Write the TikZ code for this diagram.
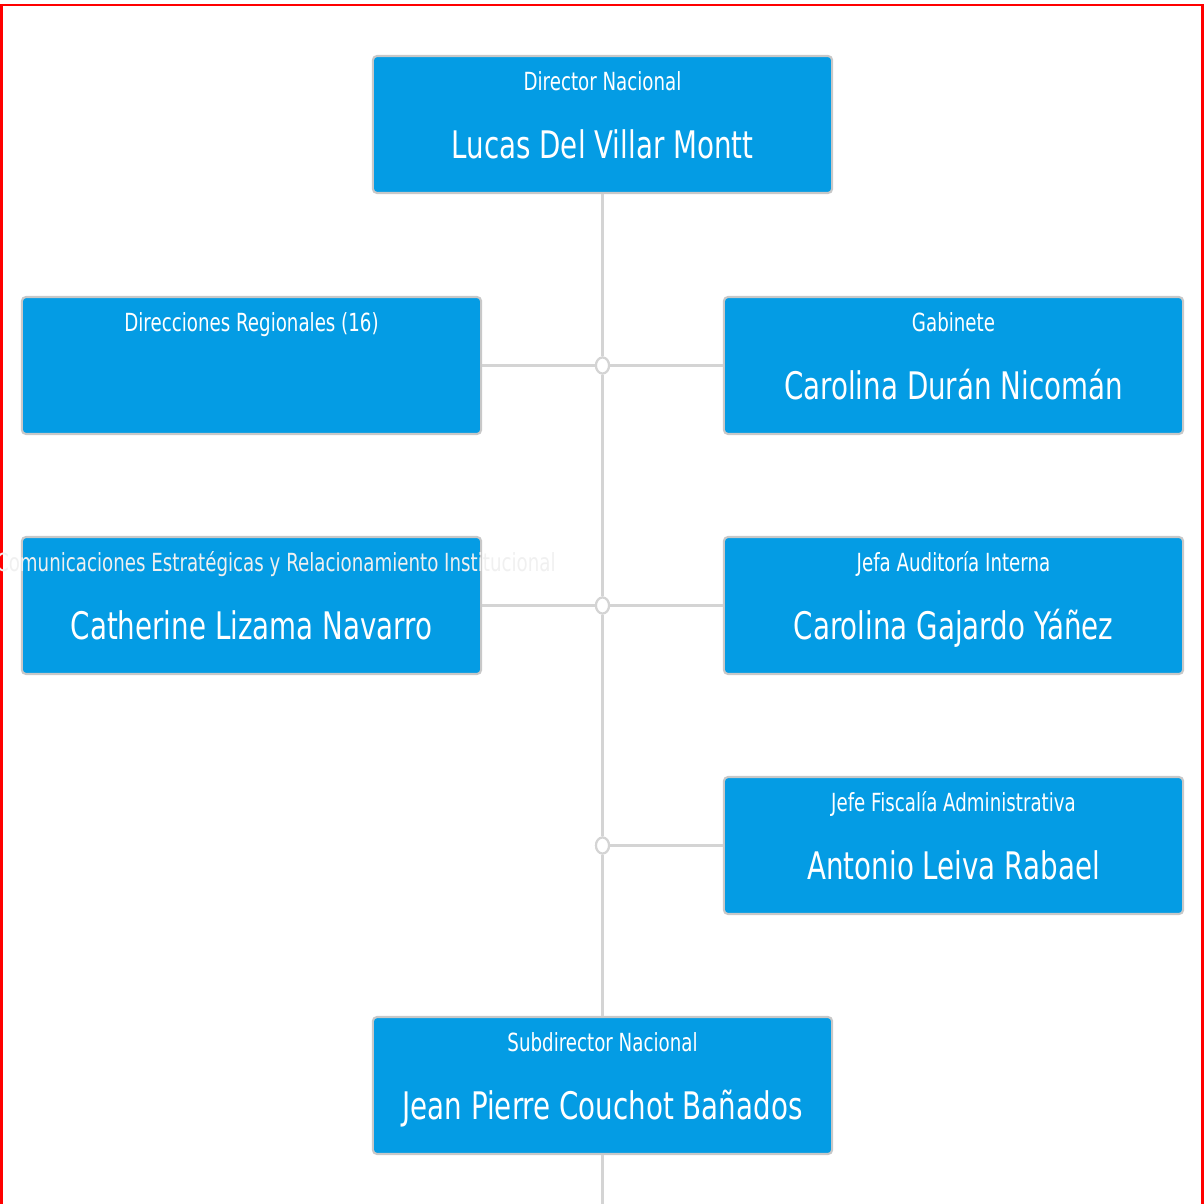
\documentclass[tikz,border=0pt]{standalone}
\usepackage{fontspec}
\usetikzlibrary{shapes.geometric}
\setmainfont[FakeStretch=0.73]{DejaVu Sans}
\definecolor{unitblue}{HTML}{049CE4}
\definecolor{unitedge}{HTML}{C8C8C8}
\definecolor{linkgray}{HTML}{D4D4D4}
\begin{document}
\begin{tikzpicture}[x=0.01cm,y=-0.01cm,
  unit/.style={draw=unitedge,line width=0.6pt,fill=unitblue,rounded corners=1.2pt,
    minimum width=4.59cm,minimum height=1.37cm,inner sep=0},
  role/.style={text=white,anchor=base,inner sep=0,font=\fontsize{7.1pt}{8pt}\selectfont},
  person/.style={text=white,anchor=base,inner sep=0,font=\fontsize{10.8pt}{12pt}\selectfont},
  link/.style={draw=linkgray,line width=0.85pt},
  joint/.style={ellipse,draw=linkgray,line width=0.6pt,fill=white,inner sep=0,
    minimum width=0.13cm,minimum height=0.16cm}]
\useasboundingbox (0,0) rectangle (1204,1204);
\draw[red,line width=0.7pt] (1.5,1210) -- (1.5,5) -- (1202.5,5) -- (1202.5,1210);
% units
\node[unit] (dir) at (602.5,124.5) {};
\node[unit] (reg) at (251.5,365.5) {};
\node[unit] (gab) at (953.5,365.5) {};
\node[unit] (com) at (251.5,605.5) {};
\node[unit] (aud) at (953.5,605.5) {};
\node[unit] (fis) at (953.5,845.5) {};
\node[unit] (sub) at (602.5,1085.5) {};
\coordinate (down) at (602.5,1215);
% links
\node[joint] (j1) at (reg.east -| dir.south) {};
\node[joint] (j2) at (com.east -| dir.south) {};
\node[joint] (j3) at (fis.west -| dir.south) {};
\draw[link] (dir.south) -- (j1);
\draw[link] (j1) -- (j2);
\draw[link] (j2) -- (j3);
\draw[link] (j3) -- (sub.north);
\draw[link] (sub.south) -- (down);
\draw[link] (reg.east) -- (j1) -- (gab.west);
\draw[link] (com.east) -- (j2) -- (aud.west);
\draw[link] (j3) -- (fis.west);
\node[joint] at (j1) {};
\node[joint] at (j2) {};
\node[joint] at (j3) {};
% texts
\node[role] (t1) at ([yshift=-0.355cm]dir.north) {Director Nacional};
\node[person] (n1) at ([yshift=-1.04cm]dir.north) {Lucas Del Villar Montt};
\node[role] (t2) at ([yshift=-0.355cm]reg.north) {Direcciones Regionales (16)};
\node[role] (t3) at ([yshift=-0.355cm]gab.north) {Gabinete};
\node[person] (n3) at ([yshift=-1.04cm]gab.north) {Carolina Durán Nicomán};
\node[role,anchor=base east,text=white!88!gray] (t4) at ([xshift=0.74cm,yshift=-0.355cm]com.north east) {Comunicaciones Estratégicas y Relacionamiento Institucional};
\node[person] (n4) at ([yshift=-1.04cm]com.north) {Catherine Lizama Navarro};
\node[role] (t5) at ([yshift=-0.355cm]aud.north) {Jefa Auditoría Interna};
\node[person] (n5) at ([yshift=-1.04cm]aud.north) {Carolina Gajardo Yáñez};
\node[role] (t6) at ([yshift=-0.355cm]fis.north) {Jefe Fiscalía Administrativa};
\node[person] (n6) at ([yshift=-1.04cm]fis.north) {Antonio Leiva Rabael};
\node[role] (t7) at ([yshift=-0.355cm]sub.north) {Subdirector Nacional};
\node[person] (n7) at ([yshift=-1.04cm]sub.north) {Jean Pierre Couchot Bañados};
\end{tikzpicture}
\end{document}
